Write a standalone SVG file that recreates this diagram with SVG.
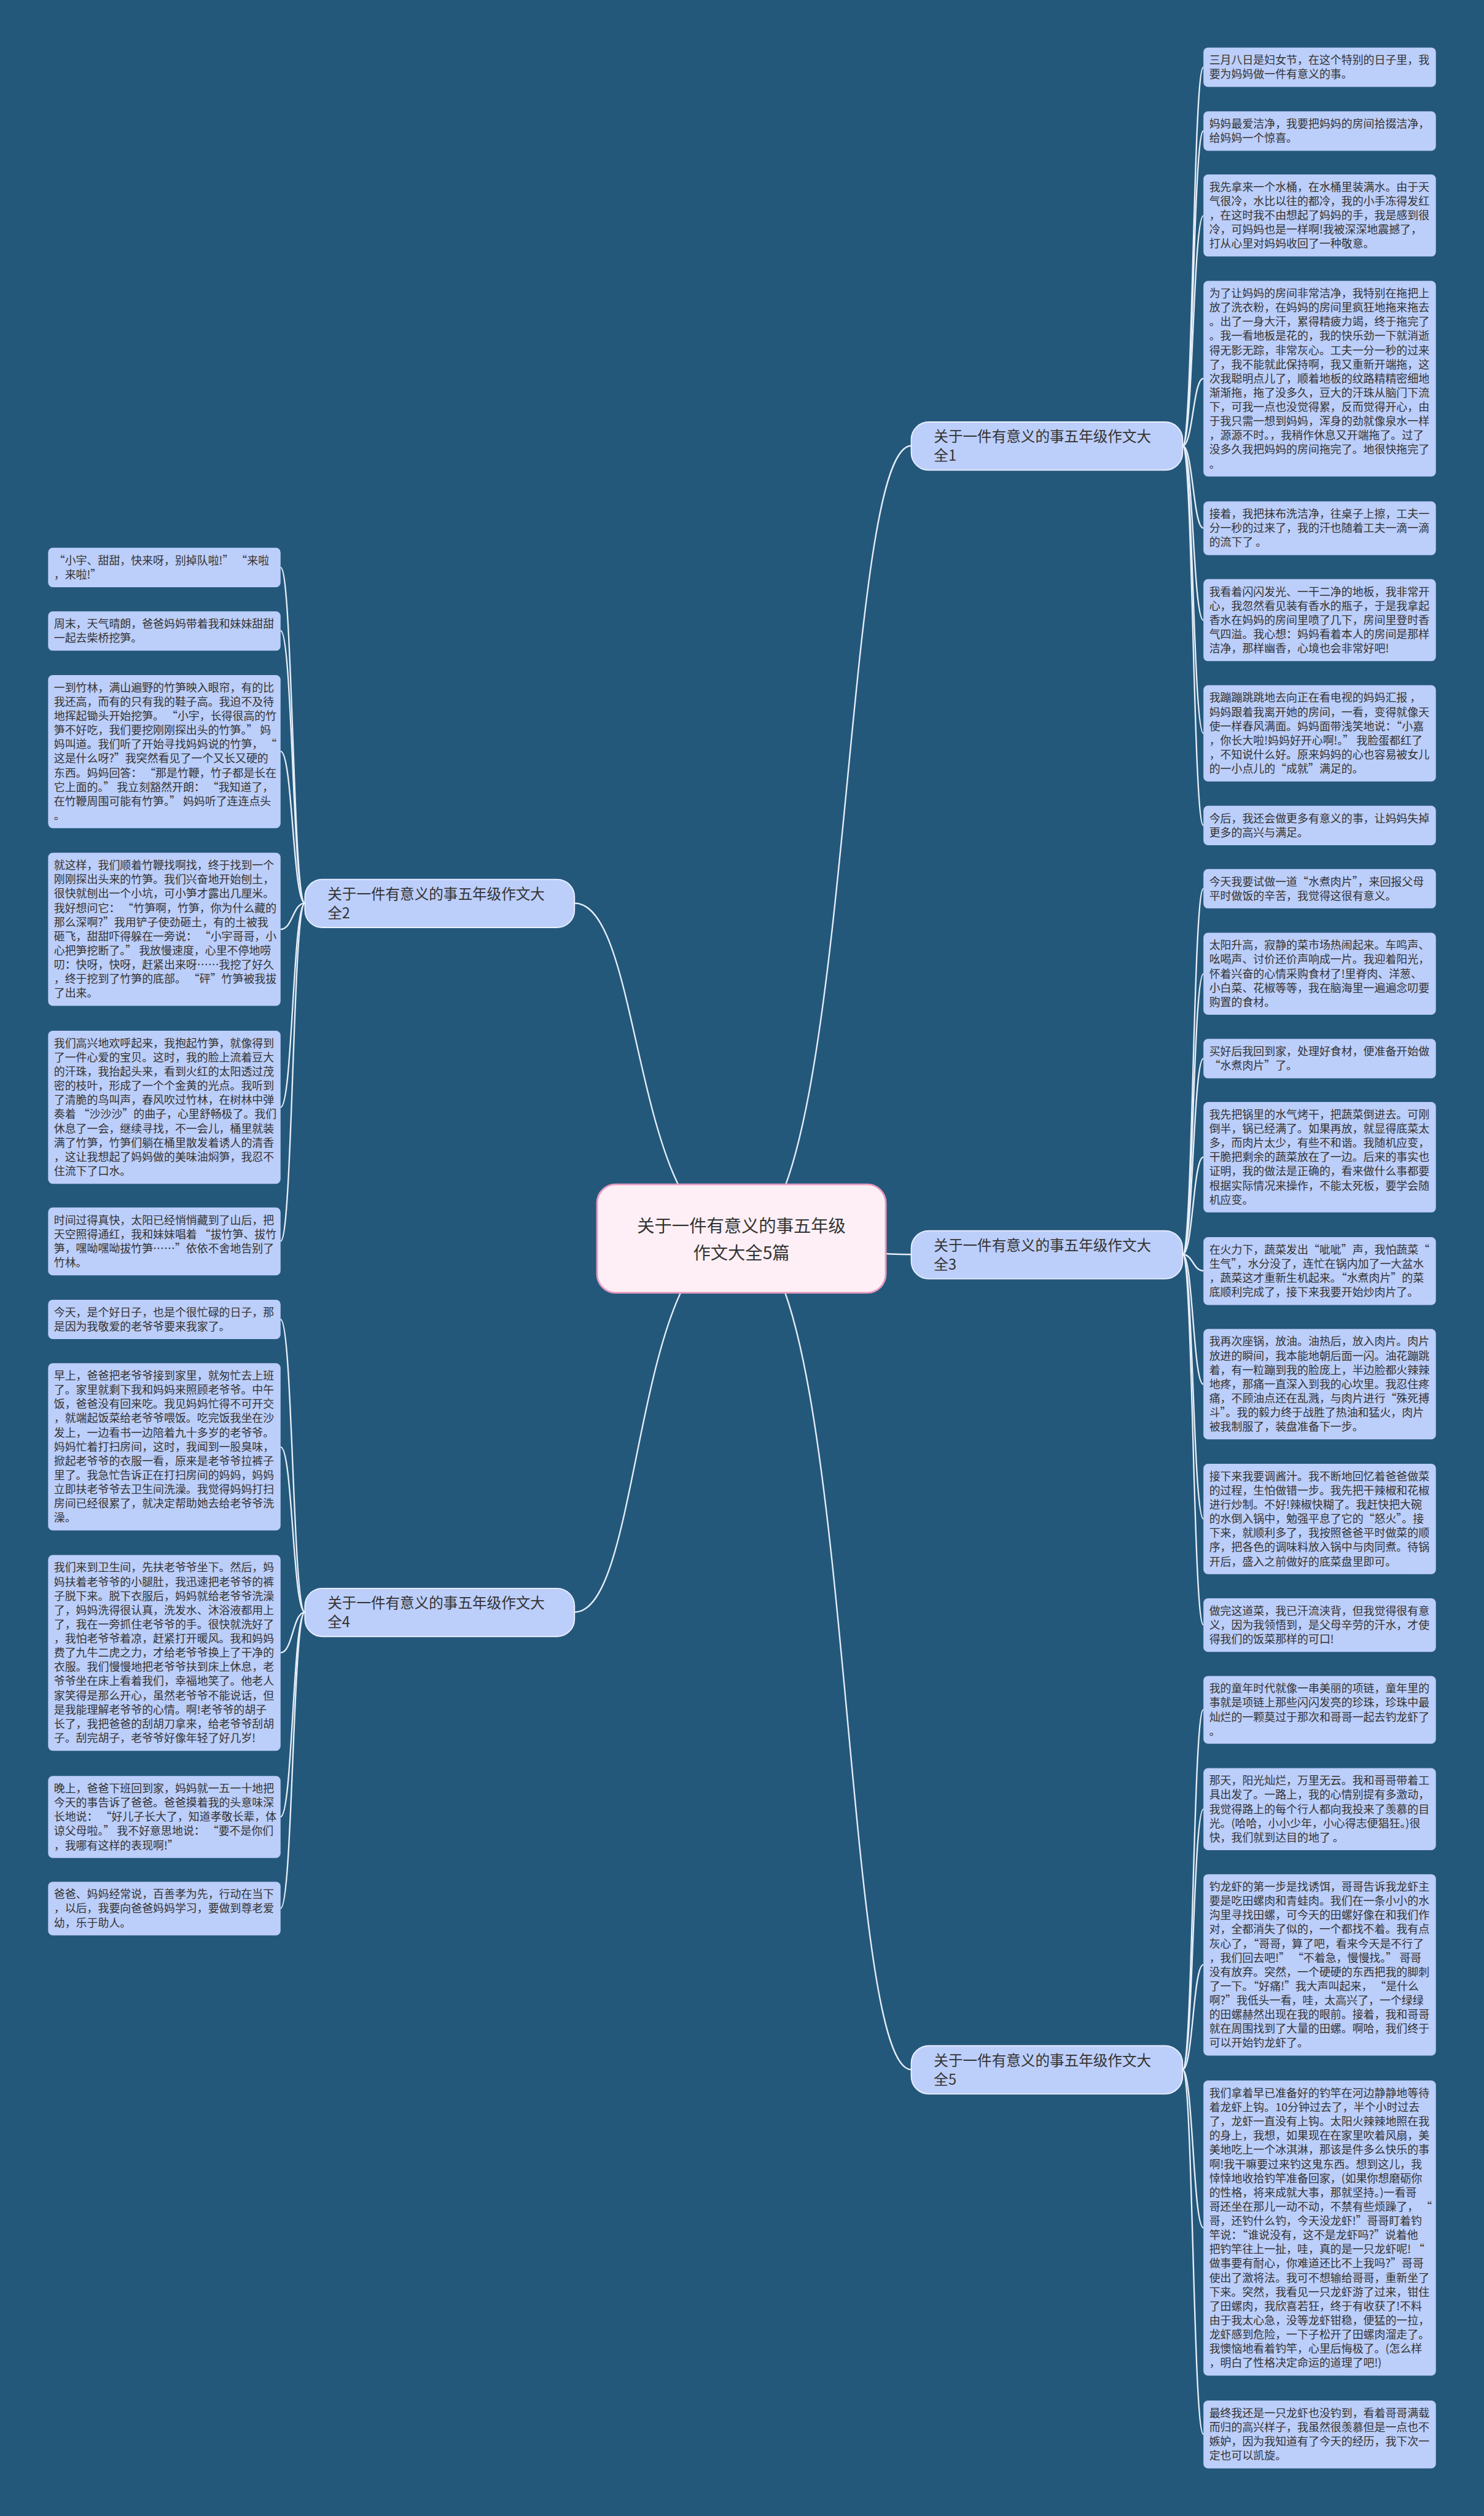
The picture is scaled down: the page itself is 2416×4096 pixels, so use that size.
<svg xmlns="http://www.w3.org/2000/svg" width="2416" height="4096" viewBox="0 0 2416 4096">
<style>
.leaf{fill:#bccefa}
.br{fill:#bccefa;stroke:#e9f0ff;stroke-width:2}
.ctr{fill:#fdeff5;stroke:#e79ac0;stroke-width:3}
.t{font-family:"Noto Sans CJK SC","Noto Sans",sans-serif;font-size:19px;fill:#333}
.bt{font-family:"Noto Sans CJK SC","Noto Sans",sans-serif;font-size:25px;fill:#333}
.ct{font-family:"Noto Sans CJK SC","Noto Sans",sans-serif;font-size:30px;fill:#333;text-anchor:middle}
.c{fill:none;stroke:#e6eef9;stroke-width:2.5}
</style>
<rect width="2416" height="4096" fill="#24587b"/>
<g transform="scale(0.94375)">
<g id="connectors">
<path class="c" d="M1279,2136 C1470,2136 1450,769 1572,769"/>
<path class="c" d="M1279,2136 C1450,2136 1450,2164 1572,2164"/>
<path class="c" d="M1279,2136 C1470,2136 1450,3570 1572,3570"/>
<path class="c" d="M1279,2136 C1090,2136 1110,1558 991,1558"/>
<path class="c" d="M1279,2136 C1090,2136 1110,2781 991,2781"/>
<path class="c" d="M2040,769 C2058,769 2058,116 2076,116"/>
<path class="c" d="M2040,769 C2058,769 2058,226 2076,226"/>
<path class="c" d="M2040,769 C2058,769 2058,372 2076,372"/>
<path class="c" d="M2040,769 C2058,769 2058,653 2076,653"/>
<path class="c" d="M2040,769 C2058,769 2058,911 2076,911"/>
<path class="c" d="M2040,769 C2058,769 2058,1070 2076,1070"/>
<path class="c" d="M2040,769 C2058,769 2058,1265 2076,1265"/>
<path class="c" d="M2040,769 C2058,769 2058,1424 2076,1424"/>
<path class="c" d="M2040,2164 C2058,2164 2058,1533 2076,1533"/>
<path class="c" d="M2040,2164 C2058,2164 2058,1680 2076,1680"/>
<path class="c" d="M2040,2164 C2058,2164 2058,1826 2076,1826"/>
<path class="c" d="M2040,2164 C2058,2164 2058,1996 2076,1996"/>
<path class="c" d="M2040,2164 C2058,2164 2058,2192 2076,2192"/>
<path class="c" d="M2040,2164 C2058,2164 2058,2388 2076,2388"/>
<path class="c" d="M2040,2164 C2058,2164 2058,2620 2076,2620"/>
<path class="c" d="M2040,2164 C2058,2164 2058,2803 2076,2803"/>
<path class="c" d="M2040,3570 C2058,3570 2058,2949 2076,2949"/>
<path class="c" d="M2040,3570 C2058,3570 2058,3121 2076,3121"/>
<path class="c" d="M2040,3570 C2058,3570 2058,3389 2076,3389"/>
<path class="c" d="M2040,3570 C2058,3570 2058,3843 2076,3843"/>
<path class="c" d="M2040,3570 C2058,3570 2058,4199 2076,4199"/>
<path class="c" d="M526,1558 C505,1558 505,979 484,979"/>
<path class="c" d="M526,1558 C505,1558 505,1088 484,1088"/>
<path class="c" d="M526,1558 C505,1558 505,1296 484,1296"/>
<path class="c" d="M526,1558 C505,1558 505,1603 484,1603"/>
<path class="c" d="M526,1558 C505,1558 505,1910 484,1910"/>
<path class="c" d="M526,1558 C505,1558 505,2141 484,2141"/>
<path class="c" d="M526,2781 C505,2781 505,2276 484,2276"/>
<path class="c" d="M526,2781 C505,2781 505,2496 484,2496"/>
<path class="c" d="M526,2781 C505,2781 505,2851 484,2851"/>
<path class="c" d="M526,2781 C505,2781 505,3134 484,3134"/>
<path class="c" d="M526,2781 C505,2781 505,3292 484,3292"/>
</g>
<g id="center"><rect class="ctr" x="1030" y="2043" width="498" height="187" rx="32"/><text class="ct" x="1279" y="2126">关于一件有意义的事五年级</text><text class="ct" x="1279" y="2172">作文大全5篇</text></g>
<g id="b1"><rect class="br" x="1572" y="728" width="468" height="83" rx="30"/><text class="bt" x="1611" y="762">关于一件有意义的事五年级作文大</text><text class="bt" x="1611" y="795">全1</text></g>
<g id="b3"><rect class="br" x="1572" y="2123" width="468" height="83" rx="30"/><text class="bt" x="1611" y="2157">关于一件有意义的事五年级作文大</text><text class="bt" x="1611" y="2190">全3</text></g>
<g id="b5"><rect class="br" x="1572" y="3529" width="468" height="83" rx="30"/><text class="bt" x="1611" y="3563">关于一件有意义的事五年级作文大</text><text class="bt" x="1611" y="3596">全5</text></g>
<g id="b2"><rect class="br" x="526" y="1517" width="465" height="83" rx="30"/><text class="bt" x="565" y="1551">关于一件有意义的事五年级作文大</text><text class="bt" x="565" y="1584">全2</text></g>
<g id="b4"><rect class="br" x="526" y="2740" width="465" height="83" rx="30"/><text class="bt" x="565" y="2774">关于一件有意义的事五年级作文大</text><text class="bt" x="565" y="2807">全4</text></g>

<g id="r1"><rect class="leaf" x="2076" y="82" width="401" height="68" rx="8"/><text class="t" x="2086" y="110.5"><tspan x="2086">三月八日是妇女节，在这个特别的日子里，我</tspan><tspan x="2086" dy="24.5">要为妈妈做一件有意义的事。</tspan></text></g>
<g id="r2"><rect class="leaf" x="2076" y="192" width="401" height="68" rx="8"/><text class="t" x="2086" y="220.5"><tspan x="2086">妈妈最爱洁净，我要把妈妈的房间拾掇洁净，</tspan><tspan x="2086" dy="24.5">给妈妈一个惊喜。</tspan></text></g>
<g id="r3"><rect class="leaf" x="2076" y="301" width="401" height="141.5" rx="8"/><text class="t" x="2086" y="329.5"><tspan x="2086">我先拿来一个水桶，在水桶里装满水。由于天</tspan><tspan x="2086" dy="24.5">气很冷，水比以往的都冷，我的小手冻得发红</tspan><tspan x="2086" dy="24.5">，在这时我不由想起了妈妈的手，我是感到很</tspan><tspan x="2086" dy="24.5">冷，可妈妈也是一样啊!我被深深地震撼了，</tspan><tspan x="2086" dy="24.5">打从心里对妈妈收回了一种敬意。</tspan></text></g>
<g id="r4"><rect class="leaf" x="2076" y="484.5" width="401" height="337.5" rx="8"/><text class="t" x="2086" y="513"><tspan x="2086">为了让妈妈的房间非常洁净，我特别在拖把上</tspan><tspan x="2086" dy="24.5">放了洗衣粉，在妈妈的房间里疯狂地拖来拖去</tspan><tspan x="2086" dy="24.5">。出了一身大汗，累得精疲力竭，终于拖完了</tspan><tspan x="2086" dy="24.5">。我一看地板是花的，我的快乐劲一下就消逝</tspan><tspan x="2086" dy="24.5">得无影无踪，非常灰心。工夫一分一秒的过来</tspan><tspan x="2086" dy="24.5">了，我不能就此保持啊，我又重新开端拖，这</tspan><tspan x="2086" dy="24.5">次我聪明点儿了，顺着地板的纹路精精密细地</tspan><tspan x="2086" dy="24.5">渐渐拖，拖了没多久，豆大的汗珠从脑门下流</tspan><tspan x="2086" dy="24.5">下，可我一点也没觉得累，反而觉得开心，由</tspan><tspan x="2086" dy="24.5">于我只需一想到妈妈，浑身的劲就像泉水一样</tspan><tspan x="2086" dy="24.5">，源源不时。，我稍作休息又开端拖了。过了</tspan><tspan x="2086" dy="24.5">没多久我把妈妈的房间拖完了。地很快拖完了</tspan><tspan x="2086" dy="24.5">。</tspan></text></g>
<g id="r5"><rect class="leaf" x="2076" y="865" width="401" height="92.5" rx="8"/><text class="t" x="2086" y="893.5"><tspan x="2086">接着，我把抹布洗洁净，往桌子上擦，工夫一</tspan><tspan x="2086" dy="24.5">分一秒的过来了，我的汗也随着工夫一滴一滴</tspan><tspan x="2086" dy="24.5">的流下了 。</tspan></text></g>
<g id="r6"><rect class="leaf" x="2076" y="999" width="401" height="141.5" rx="8"/><text class="t" x="2086" y="1027.5"><tspan x="2086">我看着闪闪发光、一干二净的地板，我非常开</tspan><tspan x="2086" dy="24.5">心，我忽然看见装有香水的瓶子，于是我拿起</tspan><tspan x="2086" dy="24.5">香水在妈妈的房间里喷了几下，房间里登时香</tspan><tspan x="2086" dy="24.5">气四溢。我心想：妈妈看着本人的房间是那样</tspan><tspan x="2086" dy="24.5">洁净，那样幽香，心境也会非常好吧!</tspan></text></g>
<g id="r7"><rect class="leaf" x="2076" y="1182" width="401" height="166" rx="8"/><text class="t" x="2086" y="1210.5"><tspan x="2086">我蹦蹦跳跳地去向正在看电视的妈妈汇报 ，</tspan><tspan x="2086" dy="24.5">妈妈跟着我离开她的房间，一看，变得就像天</tspan><tspan x="2086" dy="24.5">使一样春风满面。妈妈面带浅笑地说：“小嘉</tspan><tspan x="2086" dy="24.5">，你长大啦!妈妈好开心啊!。” 我脸蛋都红了</tspan><tspan x="2086" dy="24.5">，不知说什么好。原来妈妈的心也容易被女儿</tspan><tspan x="2086" dy="24.5">的一小点儿的“成就”满足的。</tspan></text></g>
<g id="r8"><rect class="leaf" x="2076" y="1390" width="401" height="68" rx="8"/><text class="t" x="2086" y="1418.5"><tspan x="2086">今后，我还会做更多有意义的事，让妈妈失掉</tspan><tspan x="2086" dy="24.5">更多的高兴与满足。</tspan></text></g>
<g id="r9"><rect class="leaf" x="2076" y="1499" width="401" height="68" rx="8"/><text class="t" x="2086" y="1527.5"><tspan x="2086">今天我要试做一道“水煮肉片”，来回报父母</tspan><tspan x="2086" dy="24.5">平时做饭的辛苦，我觉得这很有意义。</tspan></text></g>
<g id="r10"><rect class="leaf" x="2076" y="1609" width="401" height="141.5" rx="8"/><text class="t" x="2086" y="1637.5"><tspan x="2086">太阳升高，寂静的菜市场热闹起来。车鸣声、</tspan><tspan x="2086" dy="24.5">吆喝声、讨价还价声响成一片。我迎着阳光，</tspan><tspan x="2086" dy="24.5">怀着兴奋的心情采购食材了!里脊肉、洋葱、</tspan><tspan x="2086" dy="24.5">小白菜、花椒等等，我在脑海里一遍遍念叨要</tspan><tspan x="2086" dy="24.5">购置的食材。</tspan></text></g>
<g id="r11"><rect class="leaf" x="2076" y="1792" width="401" height="68" rx="8"/><text class="t" x="2086" y="1820.5"><tspan x="2086">买好后我回到家，处理好食材，便准备开始做</tspan><tspan x="2086" dy="24.5">“水煮肉片”了。</tspan></text></g>
<g id="r12"><rect class="leaf" x="2076" y="1901" width="401" height="190.5" rx="8"/><text class="t" x="2086" y="1929.5"><tspan x="2086">我先把锅里的水气烤干，把蔬菜倒进去。可刚</tspan><tspan x="2086" dy="24.5">倒半，锅已经满了。如果再放，就显得底菜太</tspan><tspan x="2086" dy="24.5">多，而肉片太少，有些不和谐。我随机应变，</tspan><tspan x="2086" dy="24.5">干脆把剩余的蔬菜放在了一边。后来的事实也</tspan><tspan x="2086" dy="24.5">证明，我的做法是正确的，看来做什么事都要</tspan><tspan x="2086" dy="24.5">根据实际情况来操作，不能太死板，要学会随</tspan><tspan x="2086" dy="24.5">机应变。</tspan></text></g>
<g id="r13"><rect class="leaf" x="2076" y="2134" width="401" height="117" rx="8"/><text class="t" x="2086" y="2162.5"><tspan x="2086">在火力下，蔬菜发出“呲呲”声，我怕蔬菜“</tspan><tspan x="2086" dy="24.5">生气”，水分没了，连忙在锅内加了一大盆水</tspan><tspan x="2086" dy="24.5">，蔬菜这才重新生机起来。“水煮肉片”的菜</tspan><tspan x="2086" dy="24.5">底顺利完成了，接下来我要开始炒肉片了。</tspan></text></g>
<g id="r14"><rect class="leaf" x="2076" y="2292.5" width="401" height="190.5" rx="8"/><text class="t" x="2086" y="2321"><tspan x="2086">我再次座锅，放油。油热后，放入肉片。肉片</tspan><tspan x="2086" dy="24.5">放进的瞬间，我本能地朝后面一闪。油花蹦跳</tspan><tspan x="2086" dy="24.5">着，有一粒蹦到我的脸庞上，半边脸都火辣辣</tspan><tspan x="2086" dy="24.5">地疼，那痛一直深入到我的心坎里。我忍住疼</tspan><tspan x="2086" dy="24.5">痛，不顾油点还在乱溅，与肉片进行“殊死搏</tspan><tspan x="2086" dy="24.5">斗”。我的毅力终于战胜了热油和猛火，肉片</tspan><tspan x="2086" dy="24.5">被我制服了，装盘准备下一步。</tspan></text></g>
<g id="r15"><rect class="leaf" x="2076" y="2525" width="401" height="190.5" rx="8"/><text class="t" x="2086" y="2553.5"><tspan x="2086">接下来我要调酱汁。我不断地回忆着爸爸做菜</tspan><tspan x="2086" dy="24.5">的过程，生怕做错一步。我先把干辣椒和花椒</tspan><tspan x="2086" dy="24.5">进行炒制。不好!辣椒快糊了。我赶快把大碗</tspan><tspan x="2086" dy="24.5">的水倒入锅中，勉强平息了它的“怒火”。接</tspan><tspan x="2086" dy="24.5">下来，就顺利多了，我按照爸爸平时做菜的顺</tspan><tspan x="2086" dy="24.5">序，把各色的调味料放入锅中与肉同煮。待锅</tspan><tspan x="2086" dy="24.5">开后，盛入之前做好的底菜盘里即可。</tspan></text></g>
<g id="r16"><rect class="leaf" x="2076" y="2757" width="401" height="92.5" rx="8"/><text class="t" x="2086" y="2785.5"><tspan x="2086">做完这道菜，我已汗流浃背，但我觉得很有意</tspan><tspan x="2086" dy="24.5">义，因为我领悟到，是父母辛劳的汗水，才使</tspan><tspan x="2086" dy="24.5">得我们的饭菜那样的可口!</tspan></text></g>
<g id="r17"><rect class="leaf" x="2076" y="2891" width="401" height="117" rx="8"/><text class="t" x="2086" y="2919.5"><tspan x="2086">我的童年时代就像一串美丽的项链，童年里的</tspan><tspan x="2086" dy="24.5">事就是项链上那些闪闪发亮的珍珠，珍珠中最</tspan><tspan x="2086" dy="24.5">灿烂的一颗莫过于那次和哥哥一起去钓龙虾了</tspan><tspan x="2086" dy="24.5">。</tspan></text></g>
<g id="r18"><rect class="leaf" x="2076" y="3050" width="401" height="141.5" rx="8"/><text class="t" x="2086" y="3078.5"><tspan x="2086">那天，阳光灿烂，万里无云。我和哥哥带着工</tspan><tspan x="2086" dy="24.5">具出发了。一路上，我的心情别提有多激动，</tspan><tspan x="2086" dy="24.5">我觉得路上的每个行人都向我投来了羡慕的目</tspan><tspan x="2086" dy="24.5">光。(哈哈，小小少年，小心得志便猖狂。)很</tspan><tspan x="2086" dy="24.5">快，我们就到达目的地了 。</tspan></text></g>
<g id="r19"><rect class="leaf" x="2076" y="3233" width="401" height="313" rx="8"/><text class="t" x="2086" y="3261.5"><tspan x="2086">钓龙虾的第一步是找诱饵，哥哥告诉我龙虾主</tspan><tspan x="2086" dy="24.5">要是吃田螺肉和青蛙肉。我们在一条小小的水</tspan><tspan x="2086" dy="24.5">沟里寻找田螺，可今天的田螺好像在和我们作</tspan><tspan x="2086" dy="24.5">对，全都消失了似的，一个都找不着。我有点</tspan><tspan x="2086" dy="24.5">灰心了，“哥哥，算了吧，看来今天是不行了</tspan><tspan x="2086" dy="24.5">，我们回去吧!” “不着急，慢慢找。” 哥哥</tspan><tspan x="2086" dy="24.5">没有放弃。突然，一个硬硬的东西把我的脚刺</tspan><tspan x="2086" dy="24.5">了一下。“好痛!”我大声叫起来， “是什么</tspan><tspan x="2086" dy="24.5">啊?”我低头一看，哇，太高兴了，一个绿绿</tspan><tspan x="2086" dy="24.5">的田螺赫然出现在我的眼前。接着，我和哥哥</tspan><tspan x="2086" dy="24.5">就在周围找到了大量的田螺。啊哈，我们终于</tspan><tspan x="2086" dy="24.5">可以开始钓龙虾了。</tspan></text></g>
<g id="r20"><rect class="leaf" x="2076" y="3589" width="401" height="509" rx="8"/><text class="t" x="2086" y="3617.5"><tspan x="2086">我们拿着早已准备好的钓竿在河边静静地等待</tspan><tspan x="2086" dy="24.5">着龙虾上钩。10分钟过去了，半个小时过去</tspan><tspan x="2086" dy="24.5">了，龙虾一直没有上钩。太阳火辣辣地照在我</tspan><tspan x="2086" dy="24.5">的身上，我想，如果现在在家里吹着风扇，美</tspan><tspan x="2086" dy="24.5">美地吃上一个冰淇淋，那该是件多么快乐的事</tspan><tspan x="2086" dy="24.5">啊!我干嘛要过来钓这鬼东西。想到这儿，我</tspan><tspan x="2086" dy="24.5">悻悻地收拾钓竿准备回家，(如果你想磨砺你</tspan><tspan x="2086" dy="24.5">的性格，将来成就大事，那就坚持。)一看哥</tspan><tspan x="2086" dy="24.5">哥还坐在那儿一动不动，不禁有些烦躁了， “</tspan><tspan x="2086" dy="24.5">哥，还钓什么钓，今天没龙虾!”哥哥盯着钓</tspan><tspan x="2086" dy="24.5">竿说：“谁说没有，这不是龙虾吗?”说着他</tspan><tspan x="2086" dy="24.5">把钓竿往上一扯，哇，真的是一只龙虾呢! “</tspan><tspan x="2086" dy="24.5">做事要有耐心，你难道还比不上我吗?”哥哥</tspan><tspan x="2086" dy="24.5">使出了激将法。我可不想输给哥哥，重新坐了</tspan><tspan x="2086" dy="24.5">下来。突然，我看见一只龙虾游了过来，钳住</tspan><tspan x="2086" dy="24.5">了田螺肉，我欣喜若狂，终于有收获了!不料</tspan><tspan x="2086" dy="24.5">由于我太心急，没等龙虾钳稳，便猛的一拉，</tspan><tspan x="2086" dy="24.5">龙虾感到危险，一下子松开了田螺肉溜走了。</tspan><tspan x="2086" dy="24.5">我懊恼地看着钓竿，心里后悔极了。(怎么样</tspan><tspan x="2086" dy="24.5">，明白了性格决定命运的道理了吧!)</tspan></text></g>
<g id="r21"><rect class="leaf" x="2076" y="4141" width="401" height="117" rx="8"/><text class="t" x="2086" y="4169.5"><tspan x="2086">最终我还是一只龙虾也没钓到，看着哥哥满载</tspan><tspan x="2086" dy="24.5">而归的高兴样子，我虽然很羡慕但是一点也不</tspan><tspan x="2086" dy="24.5">嫉妒，因为我知道有了今天的经历，我下次一</tspan><tspan x="2086" dy="24.5">定也可以凯旋。</tspan></text></g>

<g id="l1"><rect class="leaf" x="83" y="945" width="401" height="68" rx="8"/><text class="t" x="93" y="973.5"><tspan x="93"> “小宇、甜甜，快来呀，别掉队啦!” “来啦</tspan><tspan x="93" dy="24.5">，来啦!”</tspan></text></g>
<g id="l2"><rect class="leaf" x="83" y="1054.5" width="401" height="68" rx="8"/><text class="t" x="93" y="1083"><tspan x="93">周末，天气晴朗，爸爸妈妈带着我和妹妹甜甜</tspan><tspan x="93" dy="24.5">一起去柴桥挖笋。</tspan></text></g>
<g id="l3"><rect class="leaf" x="83" y="1164.5" width="401" height="264" rx="8"/><text class="t" x="93" y="1193"><tspan x="93">一到竹林，满山遍野的竹笋映入眼帘，有的比</tspan><tspan x="93" dy="24.5">我还高，而有的只有我的鞋子高。我迫不及待</tspan><tspan x="93" dy="24.5">地挥起锄头开始挖笋。 “小宇，长得很高的竹</tspan><tspan x="93" dy="24.5">笋不好吃，我们要挖刚刚探出头的竹笋。” 妈</tspan><tspan x="93" dy="24.5">妈叫道。我们听了开始寻找妈妈说的竹笋， “</tspan><tspan x="93" dy="24.5">这是什么呀?”我突然看见了一个又长又硬的</tspan><tspan x="93" dy="24.5">东西。妈妈回答： “那是竹鞭，竹子都是长在</tspan><tspan x="93" dy="24.5">它上面的。” 我立刻豁然开朗： “我知道了，</tspan><tspan x="93" dy="24.5">在竹鞭周围可能有竹笋。” 妈妈听了连连点头</tspan><tspan x="93" dy="24.5">。</tspan></text></g>
<g id="l4"><rect class="leaf" x="83" y="1471" width="401" height="264" rx="8"/><text class="t" x="93" y="1499.5"><tspan x="93">就这样，我们顺着竹鞭找啊找，终于找到一个</tspan><tspan x="93" dy="24.5">刚刚探出头来的竹笋。我们兴奋地开始刨土，</tspan><tspan x="93" dy="24.5">很快就刨出一个小坑，可小笋才露出几厘米。</tspan><tspan x="93" dy="24.5">我好想问它： “竹笋啊，竹笋，你为什么藏的</tspan><tspan x="93" dy="24.5">那么深啊?”我用铲子使劲砸土，有的土被我</tspan><tspan x="93" dy="24.5">砸飞，甜甜吓得躲在一旁说： “小宇哥哥，小</tspan><tspan x="93" dy="24.5">心把笋挖断了。” 我放慢速度，心里不停地唠</tspan><tspan x="93" dy="24.5">叨：快呀，快呀，赶紧出来呀……我挖了好久</tspan><tspan x="93" dy="24.5">，终于挖到了竹笋的底部。 “砰”竹笋被我拔</tspan><tspan x="93" dy="24.5">了出来。</tspan></text></g>
<g id="l5"><rect class="leaf" x="83" y="1778" width="401" height="264" rx="8"/><text class="t" x="93" y="1806.5"><tspan x="93">我们高兴地欢呼起来，我抱起竹笋，就像得到</tspan><tspan x="93" dy="24.5">了一件心爱的宝贝。这时，我的脸上流着豆大</tspan><tspan x="93" dy="24.5">的汗珠，我抬起头来，看到火红的太阳透过茂</tspan><tspan x="93" dy="24.5">密的枝叶，形成了一个个金黄的光点。我听到</tspan><tspan x="93" dy="24.5">了清脆的鸟叫声，春风吹过竹林，在树林中弹</tspan><tspan x="93" dy="24.5">奏着 “沙沙沙”的曲子，心里舒畅极了。我们</tspan><tspan x="93" dy="24.5">休息了一会，继续寻找，不一会儿，桶里就装</tspan><tspan x="93" dy="24.5">满了竹笋，竹笋们躺在桶里散发着诱人的清香</tspan><tspan x="93" dy="24.5">，这让我想起了妈妈做的美味油焖笋，我忍不</tspan><tspan x="93" dy="24.5">住流下了口水。</tspan></text></g>
<g id="l6"><rect class="leaf" x="83" y="2083" width="401" height="117" rx="8"/><text class="t" x="93" y="2111.5"><tspan x="93">时间过得真快，太阳已经悄悄藏到了山后，把</tspan><tspan x="93" dy="24.5">天空照得通红，我和妹妹唱着 “拔竹笋、拔竹</tspan><tspan x="93" dy="24.5">笋，嘿呦嘿呦拔竹笋……”依依不舍地告别了</tspan><tspan x="93" dy="24.5">竹林。</tspan></text></g>
<g id="l7"><rect class="leaf" x="83" y="2242" width="401" height="68" rx="8"/><text class="t" x="93" y="2270.5"><tspan x="93">今天，是个好日子，也是个很忙碌的日子，那</tspan><tspan x="93" dy="24.5">是因为我敬爱的老爷爷要来我家了。</tspan></text></g>
<g id="l8"><rect class="leaf" x="83" y="2351.5" width="401" height="288.5" rx="8"/><text class="t" x="93" y="2380"><tspan x="93">早上，爸爸把老爷爷接到家里，就匆忙去上班</tspan><tspan x="93" dy="24.5">了。家里就剩下我和妈妈来照顾老爷爷。中午</tspan><tspan x="93" dy="24.5">饭，爸爸没有回来吃。我见妈妈忙得不可开交</tspan><tspan x="93" dy="24.5">，就端起饭菜给老爷爷喂饭。吃完饭我坐在沙</tspan><tspan x="93" dy="24.5">发上，一边看书一边陪着九十多岁的老爷爷。</tspan><tspan x="93" dy="24.5">妈妈忙着打扫房间，这时，我闻到一股臭味，</tspan><tspan x="93" dy="24.5">掀起老爷爷的衣服一看，原来是老爷爷拉裤子</tspan><tspan x="93" dy="24.5">里了。我急忙告诉正在打扫房间的妈妈，妈妈</tspan><tspan x="93" dy="24.5">立即扶老爷爷去卫生间洗澡。我觉得妈妈打扫</tspan><tspan x="93" dy="24.5">房间已经很累了，就决定帮助她去给老爷爷洗</tspan><tspan x="93" dy="24.5">澡。</tspan></text></g>
<g id="l9"><rect class="leaf" x="83" y="2682.5" width="401" height="337.5" rx="8"/><text class="t" x="93" y="2711"><tspan x="93">我们来到卫生间，先扶老爷爷坐下。然后，妈</tspan><tspan x="93" dy="24.5">妈扶着老爷爷的小腿肚，我迅速把老爷爷的裤</tspan><tspan x="93" dy="24.5">子脱下来。脱下衣服后，妈妈就给老爷爷洗澡</tspan><tspan x="93" dy="24.5">了，妈妈洗得很认真，洗发水、沐浴液都用上</tspan><tspan x="93" dy="24.5">了，我在一旁抓住老爷爷的手。很快就洗好了</tspan><tspan x="93" dy="24.5">，我怕老爷爷着凉，赶紧打开暖风。我和妈妈</tspan><tspan x="93" dy="24.5">费了九牛二虎之力，才给老爷爷换上了干净的</tspan><tspan x="93" dy="24.5">衣服。我们慢慢地把老爷爷扶到床上休息，老</tspan><tspan x="93" dy="24.5">爷爷坐在床上看着我们，幸福地笑了。他老人</tspan><tspan x="93" dy="24.5">家笑得是那么开心，虽然老爷爷不能说话，但</tspan><tspan x="93" dy="24.5">是我能理解老爷爷的心情。啊!老爷爷的胡子</tspan><tspan x="93" dy="24.5">长了，我把爸爸的刮胡刀拿来，给老爷爷刮胡</tspan><tspan x="93" dy="24.5">子。刮完胡子，老爷爷好像年轻了好几岁!</tspan></text></g>
<g id="l10"><rect class="leaf" x="83" y="3063.5" width="401" height="141.5" rx="8"/><text class="t" x="93" y="3092"><tspan x="93">晚上，爸爸下班回到家，妈妈就一五一十地把</tspan><tspan x="93" dy="24.5">今天的事告诉了爸爸。爸爸摸着我的头意味深</tspan><tspan x="93" dy="24.5">长地说： “好儿子长大了，知道孝敬长辈，体</tspan><tspan x="93" dy="24.5">谅父母啦。” 我不好意思地说： “要不是你们</tspan><tspan x="93" dy="24.5">，我哪有这样的表现啊!”</tspan></text></g>
<g id="l11"><rect class="leaf" x="83" y="3246" width="401" height="92.5" rx="8"/><text class="t" x="93" y="3274.5"><tspan x="93">爸爸、妈妈经常说，百善孝为先，行动在当下</tspan><tspan x="93" dy="24.5">，以后，我要向爸爸妈妈学习，要做到尊老爱</tspan><tspan x="93" dy="24.5">幼，乐于助人。</tspan></text></g>
</g>
</svg>
